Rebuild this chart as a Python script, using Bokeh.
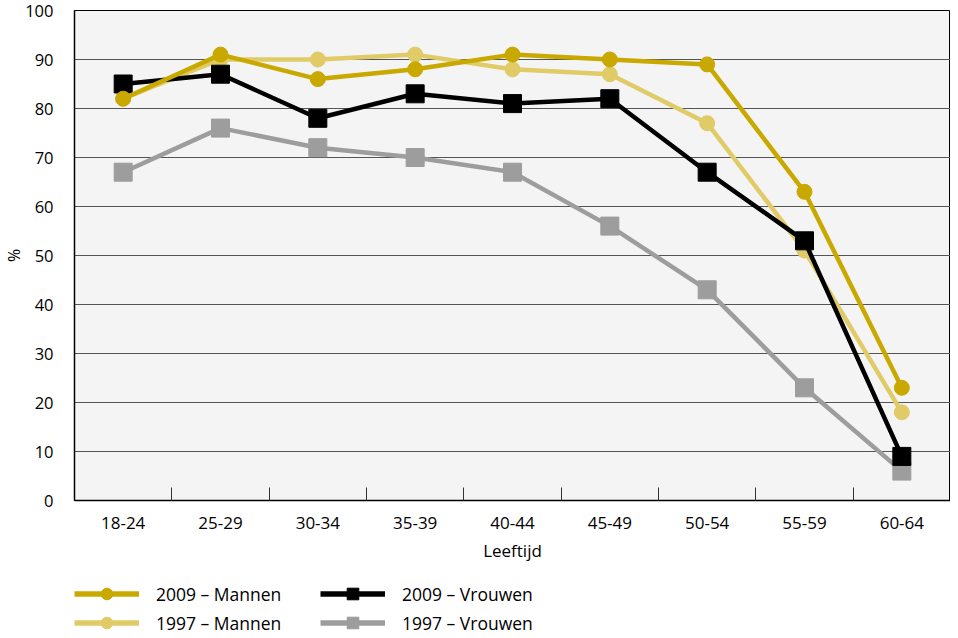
from bokeh.plotting import figure
from bokeh.models import Range1d, FixedTicker, Legend, LegendItem
from bokeh.layouts import column
from bokeh.embed import file_html
from bokeh.resources import INLINE

categories = ["18-24", "25-29", "30-34", "35-39", "40-44", "45-49", "50-54", "55-59", "60-64"]
mannen_2009 = [82, 91, 86, 88, 91, 90, 89, 63, 23]
mannen_1997 = [82, 90, 90, 91, 88, 87, 77, 51, 18]
vrouwen_2009 = [85, 87, 78, 83, 81, 82, 67, 53, 9]
vrouwen_1997 = [67, 76, 72, 70, 67, 56, 43, 23, 6]
y_ticks = list(range(0, 101, 10))

FONT = "Open Sans"
n = len(categories)
xs = [i + 0.5 for i in range(n)]

p = figure(width=950, height=564, output_backend="svg", toolbar_location=None,
           x_range=Range1d(0, n), y_range=Range1d(0, 100),
           min_border_left=67, min_border_right=0, min_border_top=10, min_border_bottom=62,
           background_fill_color="#F4F4F4", border_fill_color="white")
p.outline_line_color = "black"
p.outline_line_width = 1

# axes
xa = p.xaxis[0]
xa.ticker = FixedTicker(ticks=xs, minor_ticks=[i for i in range(1, n)])
xa.major_label_overrides = {x: c for x, c in zip(xs, categories)}
xa.major_tick_line_color = None
xa.minor_tick_in = 13
xa.minor_tick_out = 0
xa.minor_tick_line_color = "#333333"
xa.axis_line_color = "black"
xa.axis_line_width = 1.5
xa.major_label_standoff = 10
xa.major_label_text_font = FONT
xa.major_label_text_font_size = "17px"
xa.major_label_text_color = "black"
xa.axis_label = "Leeftijd"
xa.axis_label_text_font = FONT
xa.axis_label_text_font_size = "17px"
xa.axis_label_text_font_style = "normal"
xa.axis_label_text_color = "black"
xa.axis_label_standoff = 7

ya = p.yaxis[0]
ya.ticker = FixedTicker(ticks=y_ticks)
ya.major_tick_line_color = None
ya.minor_tick_line_color = None
ya.axis_line_color = "black"
ya.axis_line_width = 1.5
ya.major_label_standoff = 15
ya.major_label_text_font = FONT
ya.major_label_text_font_size = "16.5px"
ya.major_label_text_color = "black"
ya.axis_label = "%"
ya.axis_label_text_font = FONT
ya.axis_label_text_font_size = "16px"
ya.axis_label_text_font_style = "normal"
ya.axis_label_text_color = "black"
ya.axis_label_standoff = -3

p.xgrid.grid_line_color = None
p.ygrid.ticker = FixedTicker(ticks=y_ticks)
p.ygrid.grid_line_color = "#555555"
p.ygrid.grid_line_width = 1.2

series = [
    ("1997 – Vrouwen", vrouwen_1997, "#9D9D9D", "square", 18),
    ("1997 – Mannen", mannen_1997, "#E0CB67", "circle", 15),
    ("2009 – Vrouwen", vrouwen_2009, "#000000", "square", 18),
    ("2009 – Mannen", mannen_2009, "#C9A800", "circle", 15),
]
for name, vals, col, marker, size in series:
    p.line(xs, vals, line_color=col, line_width=4.5)
    p.scatter(xs, vals, marker=marker, size=size, fill_color=col, line_color=col)

# legend strip below the chart (hidden proxy renderers carry the legend glyphs)
lg = figure(width=950, height=73, output_backend="svg", toolbar_location=None,
            x_range=Range1d(0, n), y_range=Range1d(0, 100),
            x_axis_location=None, y_axis_location=None,
            min_border_left=0, min_border_right=0, min_border_top=0, min_border_bottom=0,
            background_fill_color="white", border_fill_color="white")
lg.outline_line_color = None
lg.grid.grid_line_color = None
leg_renderers = {}
for name, vals, col, marker, size in series:
    l = lg.line(xs, vals, line_color=col, line_width=5.5, visible=False)
    s = lg.scatter(xs, vals, marker=marker, size=size, fill_color=col, line_color=col, visible=False)
    leg_renderers[name] = [l, s]

order = ["2009 – Mannen", "2009 – Vrouwen", "1997 – Mannen", "1997 – Vrouwen"]
legend = Legend(items=[LegendItem(label=k, renderers=leg_renderers[k]) for k in order],
                orientation="horizontal", ncols=2, location=(0, 0))
legend.glyph_width = 65
legend.glyph_height = 29
legend.label_height = 29
legend.label_width = 164
legend.label_standoff = 17
legend.spacing = 0
legend.padding = 0
legend.margin = 0
legend.inactive_fill_alpha = 0
legend.border_line_color = None
legend.background_fill_alpha = 0
legend.label_text_font = FONT
legend.label_text_font_size = "17.5px"
legend.label_text_color = "black"
lg.add_layout(legend, "center")

layout = column(p, lg, spacing=0)
open("out.html", "w").write(file_html(layout, INLINE))
